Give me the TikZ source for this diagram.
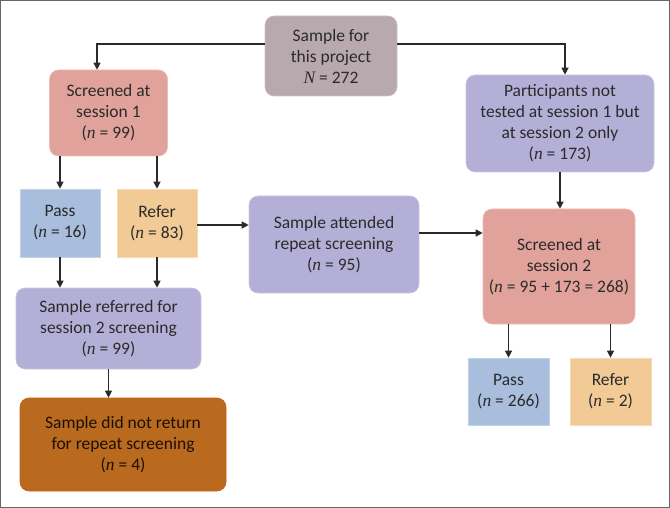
\documentclass[tikz,border=0pt]{standalone}
\usepackage{fontspec}
\setmainfont{Carlito}
\newfontfamily\nserif{Liberation Serif}
\usetikzlibrary{arrows.meta}
\newcommand\varn{{\nserif\itshape n}}
\newcommand\varN{{\nserif\itshape N}}
\definecolor{topc}{HTML}{B8A9AE}
\definecolor{salm}{HTML}{E0A29A}
\definecolor{lav}{HTML}{B4AFD6}
\definecolor{bluec}{HTML}{A9BDDD}
\definecolor{beige}{HTML}{F1CA96}
\definecolor{brown}{HTML}{B96A1F}
\definecolor{brownb}{HTML}{C2601A}
\definecolor{txt}{HTML}{2B2B2B}
\definecolor{arrc}{HTML}{2A2A2A}
\tikzset{
  box/.style={rectangle, inner sep=0pt, align=center, text=txt,
    font=\fontsize{17.5}{21}\selectfont, line width=0.6pt},
  rbox/.style={box, rounded corners=9pt},
  arr/.style={draw=arrc, line width=1.2pt, -{Triangle[length=7pt,width=7pt]}}
}
\begin{document}
\begin{tikzpicture}[x=1pt,y=-1pt]
\useasboundingbox (0,0) rectangle (670,508);
\draw[gray!80!black, line width=1pt] (0.5,0.5) rectangle (669.5,507.5);

\node[rbox, fill=topc, draw=topc!70!white, minimum width=132pt, minimum height=80pt] (top) at (331,56)
  {Sample for\\this project\\\varN{} = 272};
\node[rbox, fill=salm, draw=salm!70!white, minimum width=118pt, minimum height=86pt] (s1) at (108.5,113)
  {Screened at\\session 1\\(\varn{} = 99)};
\node[rbox, fill=lav, draw=lav!70!white, minimum width=188pt, minimum height=97pt] (part) at (560,123.5)
  {Participants not\\tested at session 1 but\\at session 2 only\\(\varn{} = 173)};
\node[box, fill=bluec, draw=bluec!70!white, minimum width=80pt, minimum height=68pt] (passL) at (60,223)
  {Pass\\(\varn{} = 16)};
\node[box, fill=beige, draw=beige!70!white, minimum width=80pt, minimum height=68pt] (referL) at (157,223)
  {Refer\\(\varn{} = 83)};
\node[rbox, fill=lav, draw=lav!70!white, minimum width=170pt, minimum height=97pt] (att) at (334,244.5)
  {Sample attended\\repeat screening\\(\varn{} = 95)};
\node[rbox, fill=salm, draw=salm!70!white, minimum width=152pt, minimum height=115pt] (s2) at (559,266.5)
  {Screened at\\session 2\\(\varn{} = 95 + 173 = 268)};
\node[rbox, fill=lav, draw=lav!70!white, minimum width=185pt, minimum height=81pt] (ref2) at (108.5,328.5)
  {Sample referred for\\session 2 screening\\(\varn{} = 99)};
\node[rbox, fill=brown, draw=brownb, text=black!85!brown, minimum width=206pt, minimum height=93pt] (dnr) at (123,444.5)
  {Sample did not return\\for repeat screening\\(\varn{} = 4)};
\node[box, fill=bluec, draw=bluec!70!white, minimum width=81pt, minimum height=67pt] (passR) at (508.5,391.5)
  {Pass\\(\varn{} = 266)};
\node[box, fill=beige, draw=beige!70!white, minimum width=81pt, minimum height=67pt] (referR) at (610.5,391.5)
  {Refer\\(\varn{} = 2)};

\draw[arr] ([yshift=12pt]top.west) -| ([xshift=-11.5pt]s1.north);
\draw[arr] ([yshift=12pt]top.east) -| ([xshift=5pt]part.north);
\draw[arr] (s1.south -| passL.north) -- (passL.north);
\draw[arr] (s1.south -| referL.north) -- (referL.north);
\draw[arr] (passL.south) -- (passL.south |- ref2.north);
\draw[arr] (referL.south) -- (referL.south |- ref2.north);
\draw[arr] ([yshift=-2pt]referL.east) -- ([yshift=-2pt]referL.east -| att.west);
\draw[arr] ([yshift=11.5pt]att.east) -- ([yshift=11.5pt]att.east -| s2.west);
\draw[arr] (part.south) -- (part.south |- s2.north);
\draw[arr] (ref2.south) -- (ref2.south |- dnr.north);
\draw[arr] (s2.south -| passR.north) -- (passR.north);
\draw[arr] (s2.south -| referR.north) -- (referR.north);
\end{tikzpicture}
\end{document}
